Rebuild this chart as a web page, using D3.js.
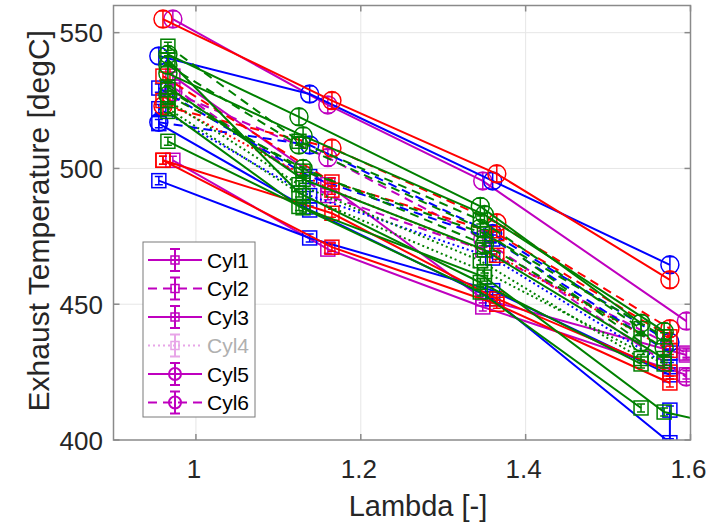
<!DOCTYPE html>
<html>
<head>
<meta charset="utf-8">
<script src="https://cdn.jsdelivr.net/npm/d3@7"></script>
<style>
  html, body { margin: 0; padding: 0; background: #fff; }
  svg { display: block; font-family: "Liberation Sans", Arial, sans-serif; }
</style>
</head>
<body>
<svg id="chart" width="728" height="525"></svg>
<script>
// ---------------- DATA ----------------
const cylinders = ["Cyl1", "Cyl2", "Cyl3", "Cyl4", "Cyl5", "Cyl6"];
const xTicks = [1, 1.2, 1.4, 1.6];
const yTicks = [400, 450, 500, 550];
const xDomain = [0.9, 1.6];
const yDomain = [400, 560];

// lambda at each operating point, per colour group
const redLambda     = [0.960, 1.165, 1.365, 1.575];
const blueLambda    = [0.955, 1.138, 1.360, 1.575];
const magentaLambda = [0.972, 1.160, 1.348, 1.595];
const greenALambda  = [0.966, 1.125, 1.345, 1.540];
const greenBLambda  = [0.966, 1.130, 1.350, 1.568];
// series with extra points
const blueCyl1Lambda   = [0.955, 1.138, 1.360, 1.575, 1.575];
const greenBCyl3Lambda = [0.966, 1.130, 1.350, 1.568, 1.625];

// exhaust temperature [degC], per cylinder (Cyl1..Cyl6)
const redCyl1 = [503, 483.5, 452, 425];
const redCyl2 = [534, 495, 476, 438];
const redCyl3 = [503, 471, 450, 421];
const redCyl4 = [525, 492, 468, 433];
const redCyl5 = [555, 525, 498, 459];
const redCyl6 = [523, 507.5, 480, 441];

const blueCyl1 = [516.5, 484.7, 452, 399, 411];
const blueCyl2 = [529.6, 497, 474, 432];
const blueCyl3 = [495.5, 474.4, 455, 424];
const blueCyl4 = [522, 490, 467, 427];
const blueCyl5 = [541.4, 527.4, 495.4, 464.5];
const blueCyl6 = [517, 508.6, 476, 436];

const magentaCyl1 = [534, 494, 452, 431.3];
const magentaCyl2 = [530, 490, 470, 432];
const magentaCyl3 = [503, 470.3, 449, 424];
const magentaCyl4 = []; // hidden in the figure
const magentaCyl5 = [555, 523.4, 495.4, 443.8];
const magentaCyl6 = [528, 504, 474, 423.2];

const greenACyl1 = [540, 491, 458, 428];
const greenACyl2 = [545, 510, 481, 441];
const greenACyl3 = [521, 486, 454.5, 411.8];
const greenACyl4 = [525, 494, 466, 430];
const greenACyl5 = [542, 519, 486, 443];
const greenACyl6 = [538, 508.6, 478, 436];

const greenBCyl1 = [530, 496, 470, 430];
const greenBCyl2 = [529, 499, 476, 438];
const greenBCyl3 = [510, 485.5, 460, 410.3, 406.5];
const greenBCyl4 = [522, 490, 462, 428];
const greenBCyl5 = [535, 512, 483, 440];
const greenBCyl6 = [527, 500, 472, 434];

// error bar half-heights [degC]
const errSquare = 1.5;
const errCircle = 3;

// ---------------- STYLE ----------------
const COLORS = { red: "#ff0000", blue: "#0000ff", magenta: "#bf00bf", green: "#008000" };
const cylStyle = [
  { dash: null,  marker: "square" },
  { dash: "9,6", marker: "square" },
  { dash: null,  marker: "square" },
  { dash: "2,3", marker: "square" },
  { dash: null,  marker: "circle" },
  { dash: "9,6", marker: "circle" }
];

const groups = [
  { color: COLORS.magenta, lambda: magentaLambda, cyl: [magentaCyl1, magentaCyl2, magentaCyl3, magentaCyl4, magentaCyl5, magentaCyl6] },
  { color: COLORS.blue,    lambda: blueLambda,    cyl: [blueCyl1, blueCyl2, blueCyl3, blueCyl4, blueCyl5, blueCyl6], special: { 0: blueCyl1Lambda } },
  { color: COLORS.red,     lambda: redLambda,     cyl: [redCyl1, redCyl2, redCyl3, redCyl4, redCyl5, redCyl6] },
  { color: COLORS.green,   lambda: greenALambda,  cyl: [greenACyl1, greenACyl2, greenACyl3, greenACyl4, greenACyl5, greenACyl6] },
  { color: COLORS.green,   lambda: greenBLambda,  cyl: [greenBCyl1, greenBCyl2, greenBCyl3, greenBCyl4, greenBCyl5, greenBCyl6], special: { 2: greenBCyl3Lambda } }
];

// ---------------- LAYOUT ----------------
const svg = d3.select("#chart");
const L = 113.5, R = 690.5, T = 5.5, B = 440;
const x = d3.scaleLinear().domain(xDomain).range([L, R]);
const y = d3.scaleLinear().domain(yDomain).range([B, T]);
const AX = "#8a8a8a", TXT = "#262626";

svg.append("defs").append("clipPath").attr("id", "clip")
  .append("rect").attr("x", L).attr("y", T).attr("width", R - L).attr("height", B - T);

// grid
const grid = svg.append("g");
grid.selectAll(".gx").data(xTicks.filter(v => v > xDomain[0] && v < xDomain[1])).join("line")
  .attr("x1", d => x(d)).attr("x2", d => x(d)).attr("y1", T).attr("y2", B)
  .attr("stroke", "#e6e6e6").attr("stroke-width", 1);
grid.selectAll(".gy").data(yTicks.filter(v => v > yDomain[0] && v < yDomain[1])).join("line")
  .attr("x1", L).attr("x2", R).attr("y1", d => y(d)).attr("y2", d => y(d))
  .attr("stroke", "#e6e6e6").attr("stroke-width", 1);

// data
const plot = svg.append("g").attr("clip-path", "url(#clip)");
const line = d3.line().x(d => x(d[0])).y(d => y(d[1]));

function drawMarker(g, kind, cx, cy, color, err, sq, rad) {
  const top = y(cy + err), bot = y(cy - err), px = x(cx);
  const py = y(cy);
  const cap = 4;
  g.append("line").attr("x1", px).attr("x2", px).attr("y1", top).attr("y2", bot)
    .attr("stroke", color).attr("stroke-width", 1.5);
  g.append("line").attr("x1", px - cap).attr("x2", px + cap).attr("y1", top).attr("y2", top)
    .attr("stroke", color).attr("stroke-width", 1.5);
  g.append("line").attr("x1", px - cap).attr("x2", px + cap).attr("y1", bot).attr("y2", bot)
    .attr("stroke", color).attr("stroke-width", 1.5);
  if (kind === "square") {
    g.append("rect").attr("x", px - sq / 2).attr("y", py - sq / 2).attr("width", sq).attr("height", sq)
      .attr("fill", "none").attr("stroke", color).attr("stroke-width", 1.5);
  } else {
    g.append("circle").attr("cx", px).attr("cy", py).attr("r", rad)
      .attr("fill", "none").attr("stroke", color).attr("stroke-width", 1.5);
  }
}

groups.forEach(grp => {
  grp.cyl.forEach((vals, ci) => {
    if (!vals.length) return;
    const lam = (grp.special && grp.special[ci]) || grp.lambda;
    const pts = vals.map((v, i) => [lam[i], v]);
    const st = cylStyle[ci];
    const g = plot.append("g");
    g.append("path").attr("d", line(pts)).attr("fill", "none")
      .attr("stroke", grp.color).attr("stroke-width", 2)
      .attr("stroke-dasharray", st.dash);
    pts.forEach(p => drawMarker(g, st.marker, p[0], p[1], grp.color,
      st.marker === "square" ? errSquare : errCircle, 14, 9));
  });
});

// axes box & ticks
const axes = svg.append("g");
axes.append("rect").attr("x", L).attr("y", T).attr("width", R - L).attr("height", B - T)
  .attr("fill", "none").attr("stroke", AX).attr("stroke-width", 1.5);
const TL = 6;
xTicks.forEach(v => {
  axes.append("line").attr("x1", x(v)).attr("x2", x(v)).attr("y1", B).attr("y2", B - TL).attr("stroke", AX).attr("stroke-width", 1.5);
  axes.append("line").attr("x1", x(v)).attr("x2", x(v)).attr("y1", T).attr("y2", T + TL).attr("stroke", AX).attr("stroke-width", 1.5);
  axes.append("text").attr("x", x(v) - 2).attr("y", 478).attr("text-anchor", "middle")
    .attr("font-size", 26).attr("fill", TXT).text(d3.format("")(v));
});
yTicks.forEach(v => {
  axes.append("line").attr("x1", L).attr("x2", L + TL).attr("y1", y(v)).attr("y2", y(v)).attr("stroke", AX).attr("stroke-width", 1.5);
  axes.append("line").attr("x1", R).attr("x2", R - TL).attr("y1", y(v)).attr("y2", y(v)).attr("stroke", AX).attr("stroke-width", 1.5);
  axes.append("text").attr("x", 103).attr("y", y(v) + 9.5).attr("text-anchor", "end")
    .attr("font-size", 26).attr("fill", TXT).text(v);
});
svg.append("text").attr("x", (L + R) / 2 + 16).attr("y", 516).attr("text-anchor", "middle")
  .attr("font-size", 29).attr("fill", TXT).text("Lambda [-]");
svg.append("text").attr("transform", `translate(49,${(T + B) / 2 - 2}) rotate(-90)`).attr("text-anchor", "middle")
  .attr("font-size", 30).attr("fill", TXT).text("Exhaust Temperature [degC]");

// legend
const lg = svg.append("g");
const LX = 143, LY = 242, LW = 112, LH = 175;
lg.append("rect").attr("x", LX).attr("y", LY).attr("width", LW).attr("height", LH)
  .attr("fill", "#fff").attr("stroke", "#7a7a7a").attr("stroke-width", 1);
cylinders.forEach((name, i) => {
  const cy = 260 + i * 28.5;
  const st = cylStyle[i];
  const faded = (i === 3);
  const col = COLORS.magenta;
  const it = lg.append("g").attr("opacity", faded ? 0.35 : 1);
  it.append("line").attr("x1", 148).attr("x2", 202).attr("y1", cy).attr("y2", cy)
    .attr("stroke", col).attr("stroke-width", 2).attr("stroke-dasharray", st.dash);
  const mx = 175;
  it.append("line").attr("x1", mx).attr("x2", mx).attr("y1", cy - 11).attr("y2", cy + 11).attr("stroke", col).attr("stroke-width", 2);
  it.append("line").attr("x1", mx - 5).attr("x2", mx + 5).attr("y1", cy - 11).attr("y2", cy - 11).attr("stroke", col).attr("stroke-width", 2);
  it.append("line").attr("x1", mx - 5).attr("x2", mx + 5).attr("y1", cy + 11).attr("y2", cy + 11).attr("stroke", col).attr("stroke-width", 2);
  if (st.marker === "square") {
    it.append("rect").attr("x", mx - 4).attr("y", cy - 4).attr("width", 8).attr("height", 8)
      .attr("fill", "none").attr("stroke", col).attr("stroke-width", 1.5);
  } else {
    it.append("circle").attr("cx", mx).attr("cy", cy).attr("r", 6)
      .attr("fill", "none").attr("stroke", col).attr("stroke-width", 2);
  }
  lg.append("text").attr("x", 207).attr("y", cy + 7.5).attr("font-size", 21)
    .attr("fill", faded ? "#b0b0b0" : "#000").text(name);
});
</script>
</body>
</html>
